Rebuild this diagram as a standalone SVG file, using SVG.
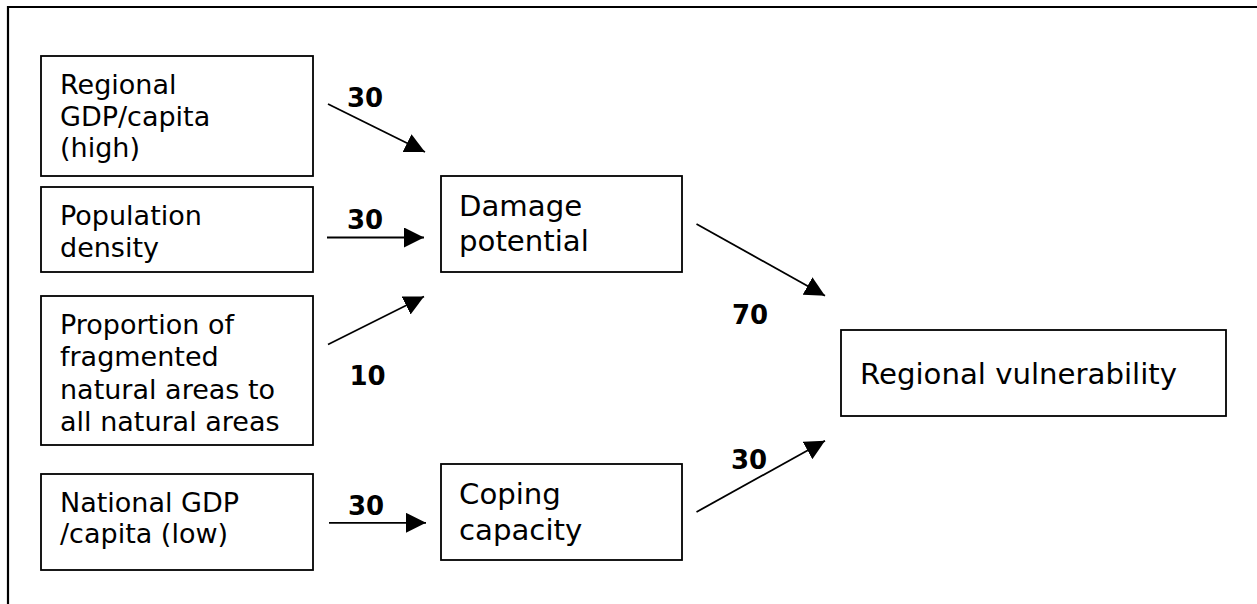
<svg xmlns="http://www.w3.org/2000/svg" width="1257" height="604" viewBox="0 0 1257 604">
<style>
.box{fill:#fff;stroke:#000;stroke-width:1.8}
.t{font-family:"DejaVu Sans",Verdana,sans-serif;font-size:27px;fill:#000}
.tl{font-family:"DejaVu Sans",Verdana,sans-serif;font-size:29.2px;fill:#000}
.n{font-family:"DejaVu Sans",Verdana,sans-serif;font-size:26px;font-weight:bold;fill:#000}
.c{fill:none;stroke:#000;stroke-width:1.8;marker-end:url(#ah)}
</style>
<defs>
<marker id="ah" markerUnits="userSpaceOnUse" markerWidth="22" markerHeight="22" refX="20" refY="10" orient="auto">
<path d="M0,0 L20,10 L0,20 z" fill="#000"/>
</marker>
</defs>
<rect width="1257" height="604" fill="#fff"/>
<path d="M8,604 V7 H1257" fill="none" stroke="#000" stroke-width="2.2"/>
<g id="n-regional-gdp">
<rect class="box" x="41" y="56" width="272" height="120"/>
<text class="t" x="60" y="94">Regional</text>
<text class="t" x="60" y="125.5">GDP/capita</text>
<text class="t" x="60" y="156.5">(high)</text>
</g>
<g id="n-population">
<rect class="box" x="41" y="187" width="272" height="85"/>
<text class="t" x="60" y="225">Population</text>
<text class="t" x="60" y="256.5">density</text>
</g>
<g id="n-fragmented">
<rect class="box" x="41" y="296" width="272" height="149"/>
<text class="t" x="60" y="333.5">Proportion of</text>
<text class="t" x="60" y="366">fragmented</text>
<text class="t" x="60" y="398.5">natural areas to</text>
<text class="t" x="60" y="431">all natural areas</text>
</g>
<g id="n-national-gdp">
<rect class="box" x="41" y="474" width="272" height="96"/>
<text class="t" x="60" y="511.5">National GDP</text>
<text class="t" x="60" y="542.5">/capita (low)</text>
</g>
<g id="n-damage">
<rect class="box" x="441" y="176" width="241" height="96"/>
<text class="tl" x="459" y="215.5">Damage</text>
<text class="tl" x="459" y="251">potential</text>
</g>
<g id="n-coping">
<rect class="box" x="441" y="464" width="241" height="96"/>
<text class="tl" x="459" y="504">Coping</text>
<text class="tl" x="459" y="540">capacity</text>
</g>
<g id="n-regional-vulnerability">
<rect class="box" x="841" y="330" width="385" height="86"/>
<text class="tl" x="860" y="383.5">Regional vulnerability</text>
</g>
<g id="connectors">
<line class="c" x1="328" y1="104" x2="425" y2="152"/>
<line class="c" x1="327" y1="237.5" x2="424" y2="237.5"/>
<line class="c" x1="328" y1="344.5" x2="424" y2="296.5"/>
<line class="c" x1="329" y1="522.8" x2="426" y2="522.8"/>
<line class="c" x1="696.5" y1="224" x2="825" y2="295.7"/>
<line class="c" x1="696.5" y1="512" x2="825" y2="440.7"/>
<text class="n" x="347" y="106.5">30</text>
<text class="n" x="347" y="228.5">30</text>
<text class="n" x="349.5" y="385">10</text>
<text class="n" x="732" y="323.5">70</text>
<text class="n" x="731" y="468.5">30</text>
<text class="n" x="348" y="515">30</text>
</g>
</svg>
